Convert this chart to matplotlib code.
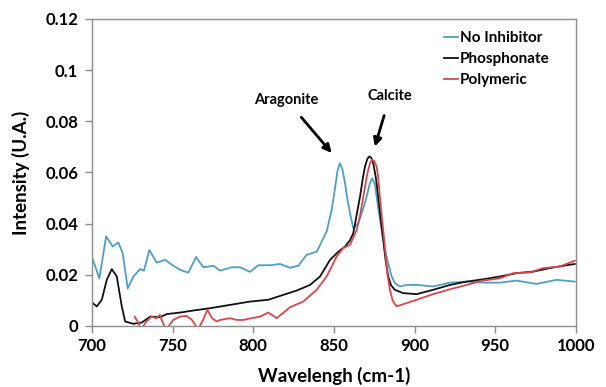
import matplotlib
matplotlib.use("Agg")
import matplotlib.pyplot as plt

plt.rcParams['font.family'] = ['Lato', 'DejaVu Sans']

# Data
x_none = [700.4, 704.5, 708.7, 712.8, 716.3, 719.0, 722.1, 725.6, 729.8, 732.2, 735.5, 740.1,
          745.3, 750.4, 754.6, 759.7, 764.5, 769.0, 775.2, 779.4, 786.6, 791.8, 798.0, 803.1,
          810.4, 816.6, 822.8, 827.9, 833.1, 839.3, 845.5, 848.6, 850.5, 852.2, 853.7, 855.3,
          856.9, 858.5, 860.0, 862.0, 865.1, 868.0, 870.3, 872.2, 873.8, 875.4, 877.5, 879.6,
          881.6, 883.7, 885.7, 887.8, 890.9, 895.1, 901.2, 911.6, 922.0, 932.3, 942.6, 953.0,
          963.3, 975.7, 988.1, 999.4]
y_none = [0.026, 0.0185, 0.035, 0.031, 0.0326, 0.0284, 0.0146, 0.0193, 0.0222, 0.0216, 0.0297, 0.0247,
          0.0258, 0.0235, 0.0219, 0.0208, 0.0269, 0.0229, 0.0235, 0.0216, 0.0229, 0.0229, 0.0211, 0.0237,
          0.0237, 0.0242, 0.0227, 0.0235, 0.0278, 0.029, 0.0369, 0.0453, 0.053, 0.0605, 0.0636, 0.0612,
          0.0558, 0.049, 0.044, 0.0382, 0.0401, 0.0455, 0.0505, 0.0555, 0.0577, 0.0555, 0.046, 0.0375,
          0.030, 0.0245, 0.0195, 0.0167, 0.0154, 0.016, 0.016, 0.0154, 0.0169, 0.0173, 0.0169, 0.0169,
          0.0177, 0.0164, 0.018, 0.0173]

x_phos = [700.4, 702.9, 706.0, 709.1, 712.2, 715.3, 718.4, 720.5, 725.6, 730.8, 736.0, 742.2,
          746.3, 754.6, 762.8, 773.2, 785.6, 798.0, 809.3, 816.6, 826.9, 835.2, 841.4, 847.6,
          852.7, 856.9, 860.0, 862.0, 864.0, 866.2, 868.0, 869.3, 870.7, 871.9, 873.1, 874.4,
          876.0, 877.5, 879.0, 880.6, 882.0, 883.7, 885.5, 887.8, 893.0, 901.3, 911.6, 922.0,
          932.3, 942.6, 953.0, 963.3, 973.6, 984.0, 994.3, 999.4]
y_phos = [0.0089, 0.0076, 0.0102, 0.018, 0.0222, 0.0193, 0.0076, 0.0017, 0.0008, 0.0013, 0.0036, 0.0034,
          0.0046, 0.0052, 0.006, 0.0069, 0.0082, 0.0095, 0.0102, 0.0117, 0.0138, 0.016, 0.0193, 0.0258,
          0.029, 0.031, 0.0335, 0.0362, 0.043, 0.0505, 0.058, 0.0623, 0.0652, 0.0662, 0.0658, 0.0636,
          0.058, 0.0505, 0.042, 0.0336, 0.026, 0.0193, 0.0158, 0.0141, 0.0128, 0.0124, 0.0141, 0.016,
          0.0173, 0.0182, 0.0193, 0.0206, 0.0212, 0.0226, 0.0237, 0.0242]

x_poly = [726.4, 728.9, 730.2, 733.7, 736.8, 739.9, 742.0, 744.0, 746.1, 750.2, 754.4, 758.5,
          762.0, 765.7, 768.8, 771.5, 774.4, 777.3, 779.4, 785.6, 789.7, 793.8, 799.0, 804.2,
          809.3, 814.5, 822.8, 831.0, 839.3, 845.5, 851.7, 855.8, 860.0, 864.1, 866.2, 868.2,
          870.0, 871.3, 872.4, 873.4, 875.0, 876.5, 877.5, 878.5, 880.0, 881.6, 883.0, 884.7,
          886.5, 888.9, 895.1, 901.3, 911.6, 922.0, 932.3, 942.6, 953.0, 961.3, 971.6, 979.9,
          990.2, 999.4]
y_poly = [0.0036, 0.001, -0.0015, 0.0017, 0.0036, 0.003, 0.0043, 0.001, -0.0015, 0.0023, 0.0036, 0.0039,
          0.0023, -0.0015, 0.0023, 0.0063, 0.003, 0.0017, 0.0023, 0.003, 0.0023, 0.0023, 0.003, 0.0036,
          0.0052, 0.003, 0.0073, 0.0095, 0.0141, 0.0193, 0.0271, 0.0304, 0.0317, 0.0375, 0.043, 0.0505,
          0.057, 0.061, 0.0635, 0.0649, 0.0645, 0.0623, 0.058, 0.0505, 0.041, 0.031, 0.021, 0.0141,
          0.0098, 0.0076, 0.0089, 0.0102, 0.0124, 0.0143, 0.016, 0.0177, 0.0186, 0.0206, 0.0209, 0.0226,
          0.0232, 0.0255]

series_labels = ["No Inhibitor", "Phosphonate", "Polymeric"]
x_ticks = [700, 750, 800, 850, 900, 950, 1000]
y_ticks = [0, 0.02, 0.04, 0.06, 0.08, 0.1, 0.12]
y_tick_labels = ["0", "0.02", "0.04", "0.06", "0.08", "0.1", "0.12"]

fig = plt.figure(figsize=(6.06, 3.87), dpi=100)
ax = fig.add_axes([0.152, 0.158, 0.798, 0.793])

ax.plot(x_none, y_none, color='#4f9fc4', lw=1.3, label=series_labels[0])
ax.plot(x_phos, y_phos, color='#111111', lw=1.3, label=series_labels[1])
ax.plot(x_poly, y_poly, color='#d9474d', lw=1.3, label=series_labels[2])

ax.set_xlim(700, 1000)
ax.set_ylim(0, 0.12)
ax.set_xticks(x_ticks)
ax.set_yticks(y_ticks)
ax.set_yticklabels(y_tick_labels)

for s in ax.spines.values():
    s.set_color('#8c8c8c')
    s.set_linewidth(1.0)
ax.tick_params(axis='both', direction='out', length=5, color='#8c8c8c', width=1.0,
               labelsize=12, pad=4)
ax.tick_params(axis='y', pad=5)
for lab in ax.get_xticklabels() + ax.get_yticklabels():
    lab.set_fontweight('bold')

ax.set_xlabel("Wavelengh (cm-1)", fontsize=13.5, fontweight='bold', labelpad=9)
ax.set_ylabel("Intensity (U.A.)", fontsize=13.5, fontweight='bold', labelpad=11)

leg = ax.legend(loc='upper right', bbox_to_anchor=(0.975, 1.005), frameon=False,
                handlelength=0.9, handletextpad=0.15, labelspacing=0.45,
                prop={'weight': 'bold', 'size': 11})

ax.annotate("Aragonite", xy=(848.6, 0.0676), xytext=(820.7, 0.0883),
            ha='center', va='center', fontsize=10.5, fontweight='bold',
            arrowprops=dict(arrowstyle='-|>', color='black', lw=2.0, mutation_scale=12,
                            shrinkA=7, shrinkB=0))
ax.annotate("Calcite", xy=(875.4, 0.0701), xytext=(884.7, 0.0897),
            ha='center', va='center', fontsize=10.5, fontweight='bold',
            arrowprops=dict(arrowstyle='-|>', color='black', lw=2.0, mutation_scale=12,
                            shrinkA=7, shrinkB=0))

fig.savefig("out.png", dpi=100)
